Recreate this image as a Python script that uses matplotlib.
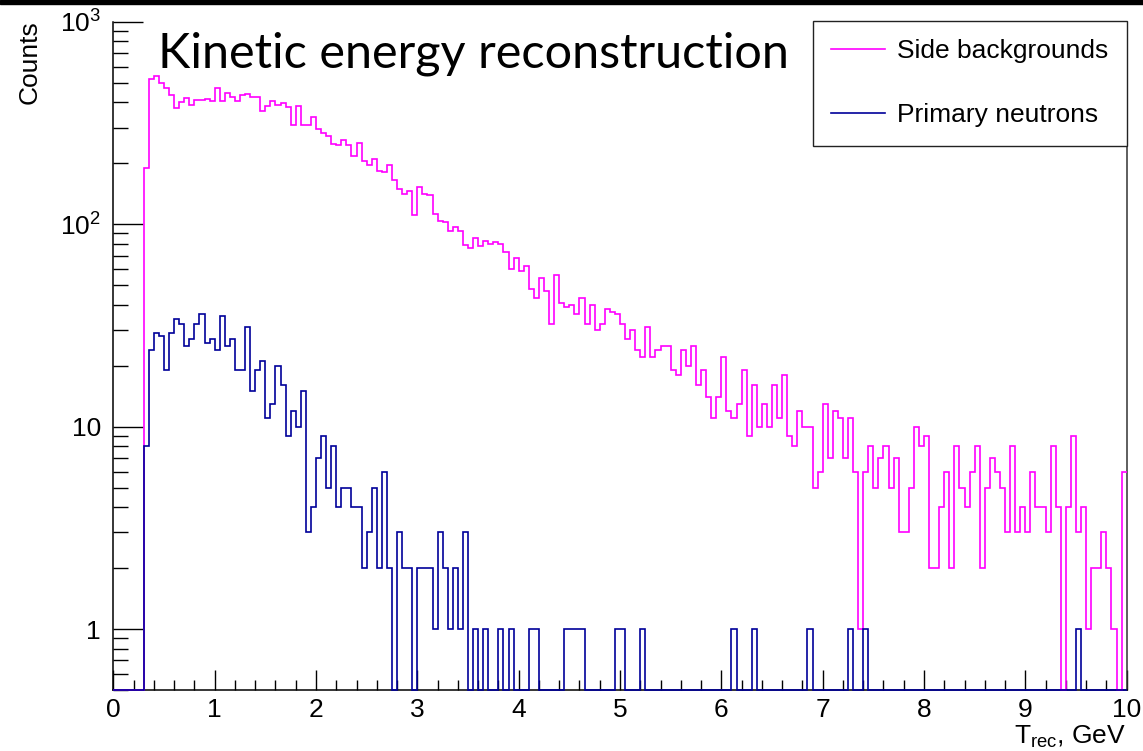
"""
Reconstructed kinetic energy spectra: side backgrounds vs primary neutrons.
ROOT-style step histograms on a log y axis. Saves out.png.
"""

import numpy as np
import matplotlib
matplotlib.use("Agg")
import matplotlib.pyplot as plt
from matplotlib.patches import Rectangle
from matplotlib.ticker import FixedLocator, LogLocator, MultipleLocator, NullFormatter

# --- Data ------------------------------------------------------------------
BIN_WIDTH = 0.05        # GeV
X_RANGE = (0.0, 10.0)
FIRST_FILLED = 0.30     # lower edge of the first filled bin

# counts per bin, starting at T = 0.30 GeV
side_backgrounds = [
    190, 520, 540, 500, 470, 435, 374, 400, 419, 388,
    410, 412, 416, 406, 470, 406, 445, 427, 406, 435,
    441, 425, 425, 363, 384, 406, 388, 397, 378, 308,
    384, 309, 309, 337, 294, 281, 274, 250, 247, 260,
    245, 218, 251, 205, 195, 211, 182, 180, 195, 166,
    149, 141, 146, 111, 153, 141, 140, 112, 104, 102,
    93, 97, 93, 79, 76, 85, 78, 83, 80, 82,
    80, 73, 60, 68, 59, 62, 48, 43, 54, 47,
    32, 56, 41, 39, 40, 36, 43, 32, 40, 30,
    32, 38, 37, 36, 32, 27, 30, 24, 22, 31,
    22, 24, 25, 25, 19, 18, 24, 20, 25, 16,
    19, 14, 11, 14, 22, 12, 11, 13, 19, 9,
    16, 10, 13, 10, 16, 11, 18, 9, 8, 12,
    10, 10, 5, 6, 13, 7, 12, 11, 7, 11,
    6, 1, 6, 8, 5, 7, 8, 5, 7, 3,
    3, 5, 10, 8, 9, 2, 2, 4, 6, 2,
    8, 5, 4, 6, 8, 2, 5, 7, 6, 5,
    3, 8, 3, 4, 3, 6, 4, 4, 3, 8,
    4, 0, 4, 9, 3, 4, 1, 2, 2, 3,
    2, 1, 0, 6,
]

primary_neutrons = [
    8, 24, 29, 28, 19, 29, 34, 32, 25, 27,
    32, 36, 26, 27, 24, 35, 25, 27, 19, 19,
    31, 15, 19, 21, 11, 13, 20, 16, 9, 12,
    10, 15, 3, 4, 7, 9, 5, 8, 4, 5,
    5, 4, 4, 2, 3, 5, 2, 6, 2, 0,
    3, 2, 2, 0, 2, 2, 2, 1, 3, 2,
    1, 2, 1, 3, 0, 1, 0, 1, 0, 0,
    1, 0, 1, 0, 0, 0, 1, 1, 0, 0,
    0, 0, 0, 1, 1, 1, 1, 0, 0, 0,
    0, 0, 0, 1, 1, 0, 0, 0, 1, 0,
    0, 0, 0, 0, 0, 0, 0, 0, 0, 0,
    0, 0, 0, 0, 0, 0, 1, 0, 0, 0,
    1, 0, 0, 0, 0, 0, 0, 0, 0, 0,
    0, 1, 0, 0, 0, 0, 0, 0, 0, 1,
    0, 0, 1, 0, 0, 0, 0, 0, 0, 0,
    0, 0, 0, 0, 0, 0, 0, 0, 0, 0,
    0, 0, 0, 0, 0, 0, 0, 0, 0, 0,
    0, 0, 0, 0, 0, 0, 0, 0, 0, 0,
    0, 0, 0, 0, 1, 0, 0, 0, 0, 0,
    0, 0, 0, 0,
]

series_labels = ["Side backgrounds", "Primary neutrons"]
x_ticks = [0, 1, 2, 3, 4, 5, 6, 7, 8, 9, 10]
y_ticks = [1, 10, 100, 1000]
y_tick_labels = ["1", "10", r"$\mathregular{10^{2}}$", r"$\mathregular{10^{3}}$"]
Y_RANGE = (0.5, 1000)

# --- Style -----------------------------------------------------------------
MAGENTA = "#ff00ff"
NAVY = "#000099"
W, H = 1143, 751
FS = 19

plt.rcParams.update({
    "font.family": ["Liberation Sans", "DejaVu Sans"],
    "font.size": FS,
    "axes.linewidth": 1.1,
    "xtick.direction": "in",
    "ytick.direction": "in",
})


def full_range(counts):
    """Pad the per-bin counts with the empty bins below FIRST_FILLED."""
    n_empty = int(round((FIRST_FILLED - X_RANGE[0]) / BIN_WIDTH))
    return np.concatenate([np.zeros(n_empty), np.asarray(counts, float)])


edges = np.linspace(X_RANGE[0], X_RANGE[1],
                    int(round((X_RANGE[1] - X_RANGE[0]) / BIN_WIDTH)) + 1)

fig = plt.figure(figsize=(W / 100, H / 100), dpi=100)
ax = fig.add_axes([113.3 / W, 61 / H, 1013.4 / W, 668.3 / H])

for counts, color, label in [(side_backgrounds, MAGENTA, series_labels[0]),
                             (primary_neutrons, NAVY, series_labels[1])]:
    vals = full_range(counts)
    # empty bins sit on the frame bottom, like ROOT draws them
    vals = np.where(vals > 0, vals, Y_RANGE[0])
    ax.stairs(vals, edges, baseline=None, color=color, lw=1.2,
              label=label, clip_on=False, zorder=3)

ax.set_yscale("log")
ax.set_xlim(*X_RANGE)
ax.set_ylim(*Y_RANGE)

ax.xaxis.set_major_locator(FixedLocator(x_ticks))
ax.xaxis.set_minor_locator(MultipleLocator(0.2))
ax.set_xticklabels([str(t) for t in x_ticks])
ax.yaxis.set_major_locator(FixedLocator(y_ticks))
ax.set_yticklabels(y_tick_labels)
ax.yaxis.set_minor_locator(LogLocator(base=10, subs=np.arange(2, 10)))
ax.yaxis.set_minor_formatter(NullFormatter())

ax.tick_params(axis="x", which="major", length=14.4, width=1, pad=6)
ax.tick_params(axis="x", which="minor", length=7.2, width=1)
ax.tick_params(axis="y", which="major", length=21.6, width=1, pad=9)
ax.tick_params(axis="y", which="minor", length=10.8, width=1)
ax.tick_params(top=False, right=False, which="both")

ax.spines["top"].set_visible(False)
ax.spines["right"].set_color("#333333")

leg = ax.legend(loc="upper right",
                bbox_to_anchor=(1126.7 / W, 1 - 21 / H),
                bbox_transform=fig.transFigure,
                borderaxespad=0, borderpad=0.7, labelspacing=1.5,
                handlelength=2.05, handletextpad=0.45,
                fancybox=False, framealpha=1, edgecolor="#222222",
                fontsize=FS)
leg.get_frame().set_linewidth(1.0)

# titles and axis labels, placed where the original slide put them
fig.text(158 / W, 1 - 68 / H, "Kinetic energy reconstruction",
         family="Lato", fontsize=35, va="baseline", ha="left")
fig.text(30 / W, 1 - 20 / H, "Counts", rotation=90,
         ha="center", va="top", fontsize=FS)
fig.text(1126 / W, 1 - 743 / H, r"T$_\mathregular{rec}$, GeV",
         ha="right", va="baseline", fontsize=FS)

# black slide border along the top
fig.patches.append(Rectangle((0, 1 - 4 / H), 1, 4 / H,
                             transform=fig.transFigure,
                             color="black", zorder=10))

fig.savefig("out.png", dpi=100)
